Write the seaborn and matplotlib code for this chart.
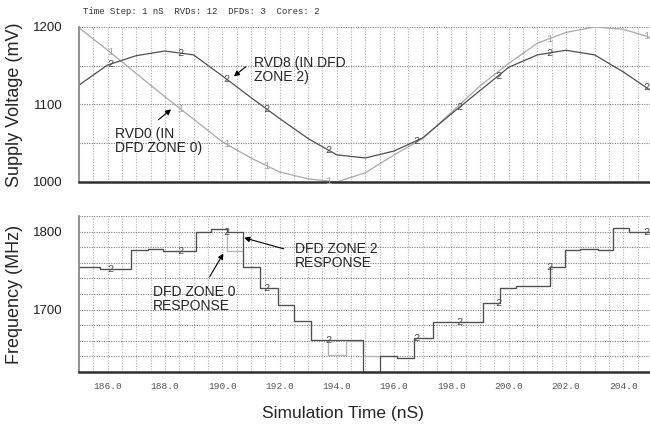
import numpy as np
import pandas as pd
import matplotlib
matplotlib.use("Agg")
import matplotlib.pyplot as plt
import seaborn as sns

# --- values ---
time_ns = [185, 186, 187, 188, 189, 190, 191, 192, 193, 194, 195,
           196, 197, 198, 199, 200, 201, 202, 203, 204, 205]
rvd0_mv = [1199, 1170, 1140, 1110, 1081, 1052, 1031, 1013, 1004, 1000, 1012,
           1035, 1056, 1090, 1124, 1153, 1179, 1193, 1200, 1197, 1186]
rvd8_mv = [1125, 1151, 1163, 1169, 1164, 1137, 1109, 1082, 1056, 1035, 1031,
           1040, 1057, 1088, 1118, 1148, 1164, 1170, 1164, 1142, 1117]

# frequency steps: start time of each step, last entry closes the final step
step_ns = [185.0, 185.73, 186.83, 187.4, 187.94, 189.1, 189.6, 190.15, 190.74,
           191.33, 191.96, 192.5, 193.1, 193.7, 194.33, 194.9, 195.5, 196.1,
           196.7, 197.35, 199.1, 199.7, 200.26, 201.43, 201.98, 202.5, 203.1,
           203.63, 204.2, 205.0]
zone0_mhz = [1755, 1752, 1776, 1778, 1775, 1800, 1803, 1775, 1755, 1728,
             1706, 1685, 1661, 1642, 1660, 1641, 1641, 1638, 1664, 1684,
             1709, 1728, 1730, 1755, 1776, 1778, 1776, 1805, 1800]
zone2_mhz = [1755, 1752, 1776, 1778, 1775, 1800, 1803, 1800, 1755, 1728,
             1706, 1685, 1661, 1661, 1661, 1620, 1641, 1638, 1664, 1684,
             1709, 1728, 1730, 1755, 1776, 1778, 1776, 1805, 1800]

# times where the simulator prints its probe numbers on the traces
marker_ns = [186.08, 188.55, 190.15, 191.55, 193.7, 196.78, 198.29, 199.63, 201.43, 204.8]

xtick_ns = [186, 188, 190, 192, 194, 196, 198, 200, 202, 204]
volt_ticks = [1000, 1100, 1200]
freq_ticks = [1700, 1800]

LIGHT = "#a9a9a9"
DARK = "#505050"

sns.set_style("white")
plt.rcParams["font.family"] = ["Liberation Sans", "DejaVu Sans"]

volt = pd.DataFrame({
    "t": time_ns * 2,
    "mv": rvd0_mv + rvd8_mv,
    "probe": ["RVD0"] * len(time_ns) + ["RVD8"] * len(time_ns),
})
freq = pd.DataFrame({
    "t": step_ns * 2,
    "mhz": zone0_mhz + [zone0_mhz[-1]] + zone2_mhz + [zone2_mhz[-1]],
    "zone": ["zone0"] * len(step_ns) + ["zone2"] * len(step_ns),
})

fig = plt.figure(figsize=(6.5, 4.25), dpi=100)
ax1 = fig.add_axes([0.1215, 0.5718, 0.8815, 0.3647])
ax2 = fig.add_axes([0.1215, 0.1247, 0.8815, 0.367])

sns.lineplot(data=volt, x="t", y="mv", hue="probe", hue_order=["RVD0", "RVD8"],
             palette={"RVD0": LIGHT, "RVD8": DARK}, legend=False, lw=0.9, ax=ax1)
sns.lineplot(data=freq, x="t", y="mhz", hue="zone", hue_order=["zone0", "zone2"],
             palette={"zone0": "#b4b4b4", "zone2": DARK}, legend=False, lw=0.9,
             drawstyle="steps-post", ax=ax2)

# probe numbers along the traces (where both traces meet only the "2" shows)
mono = "Liberation Mono"
for t in marker_ns:
    v0 = np.interp(t, time_ns, rvd0_mv)
    v8 = np.interp(t, time_ns, rvd8_mv)
    if abs(v0 - v8) > 12:
        ax1.text(t, v0, "1", color=LIGHT, fontsize=7.5,
                 family=mono, ha="center", va="center")
    ax1.text(t, v8, "2", color=DARK, fontsize=7.5,
             family=mono, ha="center", va="center")
    i = np.searchsorted(step_ns, t, side="right") - 1
    ax2.text(t, zone2_mhz[i], "2", color=DARK, fontsize=7.5,
             family=mono, ha="center", va="center")

for ax in (ax1, ax2):
    ax.set_xlim(185, 205)
    ax.set_xticks(xtick_ns)
    ax.set_xticks(np.arange(185, 205.01, 0.5), minor=True)
    ax.grid(which="both", axis="x", ls=(0, (1, 1.5)), color="#b0b0b0", lw=0.8)
    ax.grid(which="both", axis="y", ls=(0, (1, 1.2)), color="#808080", lw=0.8)
    ax.set_axisbelow(True)
    ax.spines["top"].set_visible(False)
    ax.spines["right"].set_visible(False)
    ax.spines["left"].set_color("#8a8a8a")
    ax.spines["left"].set_linewidth(1.3)
    ax.spines["bottom"].set_color("#303030")
    ax.spines["bottom"].set_linewidth(1.8)
    ax.tick_params(axis="y", which="major", length=3, width=0.8, color="#555555",
                   labelsize=9.5, pad=9, labelcolor="#222222")
    ax.tick_params(which="minor", length=0)

ax1.set_ylim(1000, 1200)
ax1.set_yticks(volt_ticks)
ax1.set_yticks([1050, 1150], minor=True)
ax1.tick_params(axis="x", which="both", bottom=False, labelbottom=False)
ax1.set_xlabel("")
ax1.set_ylabel("Supply Voltage (mV)", fontsize=13)
ax1.yaxis.set_label_coords(-0.098, 0.5)

ax2.set_ylim(1620, 1820)
ax2.set_yticks(freq_ticks)
ax2.set_yticks(np.arange(1640, 1821, 20), minor=True)
ax2.tick_params(axis="x", which="major", length=4, width=0.8, color="#444444",
                direction="out", pad=3, labelsize=6.8, labelcolor="#555555")
ax2.set_xticklabels([f"{v:.1f}" for v in xtick_ns], family=mono)
ax2.set_ylabel("Frequency (MHz)", fontsize=13)
ax2.yaxis.set_label_coords(-0.098, 0.5)
ax2.set_xlabel("Simulation Time (nS)", fontsize=12.5)
ax2.xaxis.set_label_coords(0.46, -0.22)

# callouts
arrow = dict(arrowstyle="-|>", color="black", lw=0.8, mutation_scale=8)
ax1.annotate("", xy=(190.33, 1134), xytext=(190.9, 1151), arrowprops=arrow)
ax1.text(191.1, 1162, "RVD8 (IN DFD\nZONE 2)", fontsize=10, va="top", ha="left",
         linespacing=1.0)
ax1.annotate("", xy=(188.29, 1096), xytext=(187.7, 1078), arrowprops=arrow)
ax1.text(186.26, 1071, "RVD0 (IN\nDFD ZONE 0)", fontsize=10, va="top", ha="left",
         linespacing=1.0)
ax2.annotate("", xy=(190.67, 1793), xytext=(192.24, 1777), arrowprops=arrow)
ax2.text(192.53, 1787, "DFD ZONE 2\nRESPONSE", fontsize=10, va="top", ha="left",
         linespacing=1.0)
ax2.annotate("", xy=(190.09, 1775), xytext=(189.51, 1739), arrowprops=arrow)
ax2.text(187.58, 1732, "DFD ZONE 0\nRESPONSE", fontsize=10, va="top", ha="left",
         linespacing=1.0)

fig.text(83 / 650, 1 - 12 / 425, "Time Step: 1 nS  RVDs: 12  DFDs: 3  Cores: 2",
         fontsize=6.5, family=mono, color="#333333", va="center", ha="left")

fig.savefig("out.png", dpi=100)
